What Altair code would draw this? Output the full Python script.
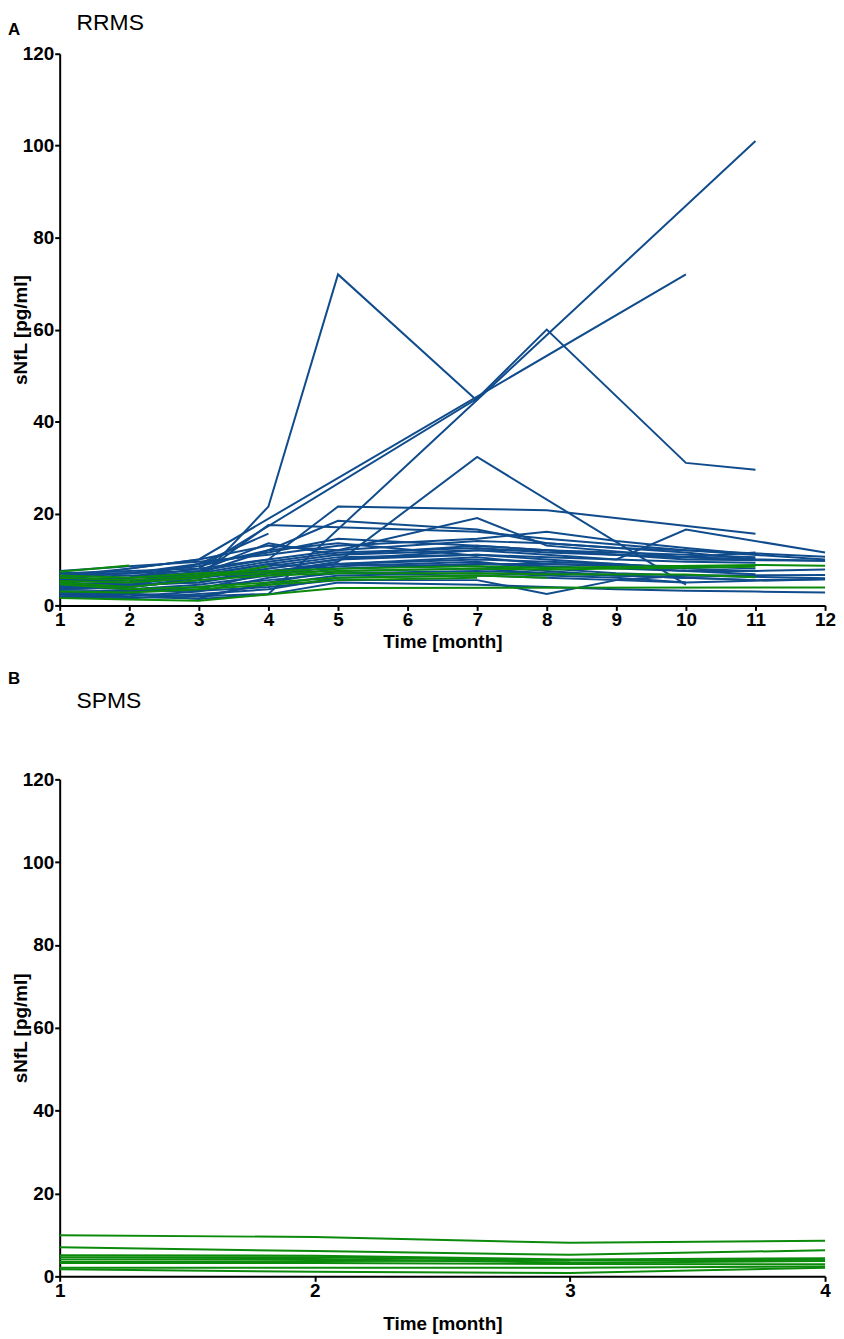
import altair as alt
import pandas as pd

N = None
BLUE = "#104C8C"
GREEN = "#0B8A0B"
FONT = "Liberation Sans"

MONTHS_RRMS = list(range(1, 13))
MONTHS_SPMS = [1, 2, 3, 4]

# RRMS panel, blue series (value per month 1..12, None = no sample)
RRMS_BLUE = [
    [3.5, 4.0, 5.5, 21.5, 72.0, N, 44.5, N, N, N, N, N],
    [5.0, 6.0, 8.0, N, N, N, 45.0, 60.0, N, 31.0, 29.5, N],
    [6.0, 8.0, 10.0, N, N, N, N, N, N, 72.0, N, N],
    [3.0, 2.5, 2.0, 2.5, N, N, N, N, N, N, 101.0, N],
    [4.0, 4.5, 5.0, N, 9.5, N, 32.3, N, N, 4.5, N, N],
    [6.5, 7.0, 7.5, 10.0, 21.5, N, N, 20.7, N, N, 15.6, N],
    [5.5, 6.0, 6.5, 17.5, N, N, 16.0, 14.5, N, 12.0, N, 10.6],
    [4.5, 5.0, 7.0, 12.0, 18.4, N, 16.5, 13.5, N, 11.5, 10.0, N],
    [7.0, 7.5, 8.0, 10.0, 12.0, N, 19.0, 13.0, N, 10.5, 11.5, N],
    [3.5, 4.0, 6.0, 8.0, 10.0, N, 12.0, 11.0, 10.0, 16.5, N, 11.5],
    [3.0, 3.0, 3.2, 4.0, 5.5, N, 5.5, 2.5, 5.5, 6.5, N, 6.6],
    [5.0, 6.0, 9.0, 15.6, N, N, N, N, N, N, N, N],
    [2.0, 1.8, 1.5, 5.0, 7.5, N, 8.0, 7.0, N, 6.0, 5.5, 5.7],
    [3.0, 3.2, 3.5, 7.0, 9.0, N, 10.0, 9.5, 9.0, 8.0, 7.5, 7.8],
    [5.5, 6.0, 6.5, 9.0, 11.0, N, 13.0, 12.0, 11.0, 10.0, N, 9.7],
    [6.5, 8.0, 10.0, 13.0, 12.0, N, 14.0, 13.5, 12.5, 12.0, N, 10.0],
    [4.0, 4.5, 5.0, 8.0, 10.0, N, 11.0, 10.5, 10.0, 9.5, 9.3, N],
    [2.5, 2.0, 3.0, 6.0, 8.0, N, 9.0, 8.5, 8.0, 7.5, 7.5, N],
    [7.5, 8.5, 9.5, 11.0, 13.0, N, 14.5, 16.0, 14.0, 12.5, 11.1, N],
    [4.0, 3.5, 4.5, 6.5, 8.5, N, 9.5, 8.0, 7.0, 6.5, N, 5.9],
    [3.0, 2.5, 1.4, 2.4, 5.0, N, 4.5, 4.0, 3.5, 3.2, 3.0, 2.8],
    [6.0, 6.5, 7.0, 9.5, 11.5, N, 12.5, 11.5, N, 10.5, 10.0, N],
    [5.0, 5.5, 6.0, 7.5, 9.0, N, 10.5, 9.0, 8.5, 7.5, 6.8, N],
    [2.5, 3.0, 4.0, 5.5, 7.0, N, 7.5, 7.0, 6.5, 6.0, 5.5, N],
    [4.5, 5.0, 6.0, 8.5, 10.5, N, 11.0, 10.0, 9.0, 8.0, N, N],
    [3.5, 4.0, 5.5, 7.0, 9.0, N, 8.5, 7.5, 6.5, 6.0, N, N],
    [6.0, 7.0, 8.5, 12.0, 13.5, N, 10.8, N, N, N, N, N],
    [2.0, 2.5, 2.0, 4.5, 6.5, N, 7.0, 6.5, 6.0, 5.0, N, 5.7],
    [7.0, 7.0, 9.0, 11.5, 14.5, N, 13.0, 12.0, 11.0, 10.5, 10.0, 9.7],
    [5.5, 5.0, 7.5, 13.5, 11.0, N, 12.0, 12.0, 11.5, 11.0, 10.5, N],
    [1.8, 1.5, 2.5, 3.5, 6.0, N, 6.5, 6.0, 5.5, 5.0, N, N],
    [4.0, 4.5, 6.5, 9.0, 8.0, N, 9.0, 9.0, N, 8.5, 8.0, N],
]

# RRMS panel, green series
RRMS_GREEN = [
    [7.3, 8.7, N, N, N, N, N, N, N, N, N, N],
    [6.5, 6.0, 7.0, 7.5, 8.0, N, 8.5, 8.2, N, N, 8.8, 8.6],
    [5.0, 4.0, 5.5, 6.5, 7.0, N, 7.0, 6.8, N, 6.7, 6.1, N],
    [1.6, 1.3, 1.0, N, 3.8, N, N, N, N, N, N, 3.9],
    [4.6, 3.5, 4.0, 5.0, 6.0, N, 6.5, 6.0, N, N, N, N],
    [3.0, 2.8, 3.5, 4.5, 5.5, N, 6.0, N, N, N, N, N],
    [5.3, 5.0, 6.0, 8.5, N, N, N, N, N, N, N, N],
    [6.0, 5.5, 6.5, 7.0, 7.5, N, 8.0, 7.8, N, N, 8.4, N],
]

# SPMS panel, green series (months 1..4)
SPMS_GREEN = [
    [9.9, 9.5, 8.1, 8.6],
    [7.0, 6.1, 5.2, 6.3],
    [5.1, 5.0, 4.1, 4.4],
    [4.6, 4.6, 3.8, 4.0],
    [4.1, 4.2, 3.3, 3.7],
    [3.5, 3.7, 3.8, N],
    [3.2, 3.2, 3.0, 2.9],
    [2.1, 2.1, 2.1, 2.4],
    [1.7, 1.1, 0.8, 2.1],
]


def to_long(rows, months, prefix):
    recs = []
    for i, row in enumerate(rows):
        for m, v in zip(months, row):
            if v is not None:
                recs.append({"pid": f"{prefix}{i}", "month": m, "value": v})
    return pd.DataFrame(recs)


W = 770
H_TOP = 555
H_BOT = 500


def x_axis(values, title_pad):
    return alt.Axis(
        values=values, format="d", title="Time [month]",
        labelFont=FONT, labelFontSize=19, labelFontWeight="bold", labelColor="black",
        labelPadding=0, labelFlush=False,
        titleFont=FONT, titleFontSize=19, titleFontWeight="bold", titleColor="black",
        titlePadding=title_pad,
        domainColor="black", domainWidth=2, tickColor="black", tickWidth=2, tickSize=5,
        grid=False,
    )


def y_axis(h):
    return alt.Axis(
        values=[0, 20, 40, 60, 80, 100, 120], title="sNfL [pg/ml]",
        labelFont=FONT, labelFontSize=19, labelFontWeight="bold", labelColor="black",
        labelPadding=1,
        titleFont=FONT, titleFontSize=19, titleFontWeight="bold", titleColor="black",
        titleAngle=270, titleBaseline="middle", titleAlign="center",
        titleX=-39, titleY=h / 2,
        domainColor="black", domainWidth=2, tickColor="black", tickWidth=2, tickSize=5,
        grid=False,
    )


def lines(df, color, months, h, title_pad):
    return alt.Chart(df).mark_line(color=color, strokeWidth=2).encode(
        x=alt.X("month:Q", scale=alt.Scale(domain=[months[0], months[-1]], nice=False, zero=False),
                axis=x_axis(months, title_pad)),
        y=alt.Y("value:Q", scale=alt.Scale(domain=[0, 120], nice=False), axis=y_axis(h)),
        detail="pid:N",
        order="month:Q",
    )


def label(text, x, y, size, weight):
    return alt.Chart(pd.DataFrame({"t": [text]})).mark_text(
        align="left", baseline="alphabetic", font=FONT, fontSize=size,
        fontWeight=weight, color="black",
    ).encode(text="t:N", x=alt.value(x), y=alt.value(y))


top = alt.layer(
    lines(to_long(RRMS_BLUE, MONTHS_RRMS, "b"), BLUE, MONTHS_RRMS, H_TOP, 3),
    lines(to_long(RRMS_GREEN, MONTHS_RRMS, "g"), GREEN, MONTHS_RRMS, H_TOP, 3),
    label("A", -52, -19, 17, "bold"),
    label("RRMS", 17, -24, 23, "normal"),
).properties(width=W, height=H_TOP)

bottom = alt.layer(
    lines(to_long(SPMS_GREEN, MONTHS_SPMS, "s"), GREEN, MONTHS_SPMS, H_BOT, 14),
    label("B", -52, -96, 17, "bold"),
    label("SPMS", 17, -72, 23, "normal"),
).properties(width=W, height=H_BOT)

chart = alt.vconcat(top, bottom, spacing=19).properties(padding=0).configure_view(stroke=None)

chart.save("out.html", embed_options={"renderer": "svg", "actions": False})
